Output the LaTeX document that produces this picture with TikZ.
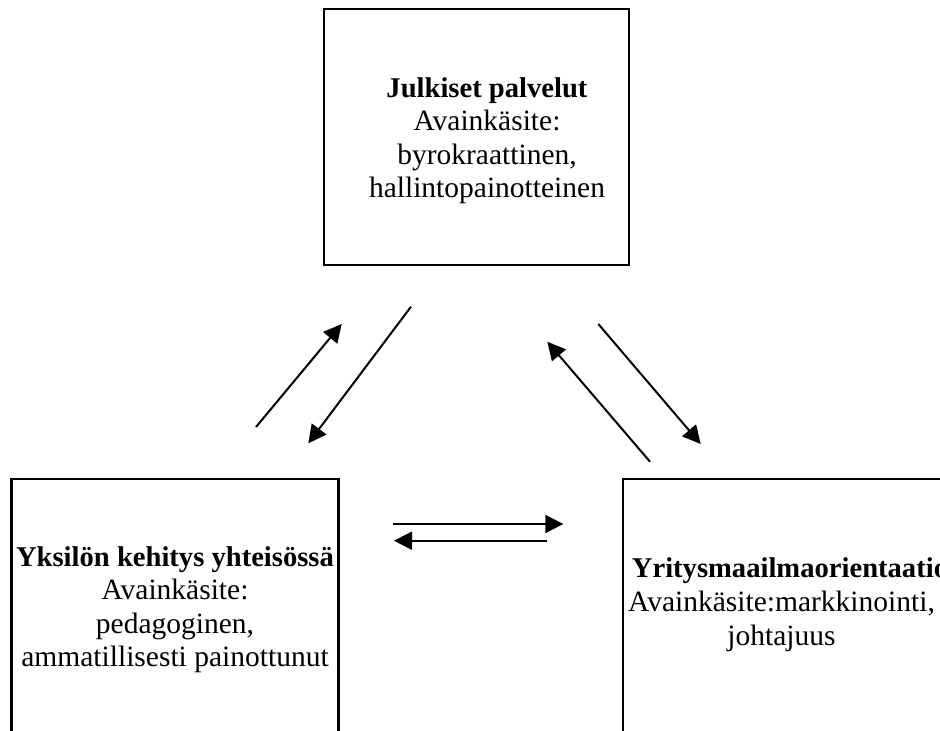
\documentclass[tikz,border=0pt]{standalone}
\usepackage{fontspec}
\setmainfont{Liberation Serif}
\usetikzlibrary{arrows.meta}
\newcommand{\titlefont}{\fontsize{28.6}{33.5}\selectfont\bfseries}
\begin{document}
\begin{tikzpicture}[x=1pt,y=-1pt,
  box/.style={draw=black, line width=2.1pt, inner sep=0pt},
  lbl/.style={font=\fontsize{29.5}{33.5}\selectfont, align=center, inner sep=0pt, anchor=base},
  arr/.style={line width=2pt, -{Triangle[length=18pt,width=18pt]}}]
\useasboundingbox (0,0) rectangle (940,731);
\clip (0,0) rectangle (940,731);
% boxes
\node[box, minimum width=305pt, minimum height=256pt] (top) at (476.5,137.2) {};
\node[box, minimum width=327pt, minimum height=290pt] (left) at (175,624) {};
\node[box, minimum width=340pt, minimum height=290pt] (right) at (793,624) {};
% texts (base anchor = baseline of the last line)
\node[lbl] (toptext) at (487,197.8) {{\titlefont Julkiset palvelut}\\Avainkäsite:\\byrokraattinen,\\hallintopainotteinen};
\node[lbl] (lefttext) at (175,666.7) {{\titlefont Yksilön kehitys yhteisössä}\\Avainkäsite:\\pedagoginen,\\ammatillisesti painottunut};
\node[lbl, anchor=base west] (righttitle) at (631.7,577.3) {\titlefont Yritysmaailmaorientaatio};
\node[lbl] (righttext) at (781.5,645) {Avainkäsite:markkinointi,\\johtajuus};
% arrow end points
\coordinate (a1s) at (256,427);   \coordinate (a1e) at (341.7,324);
\coordinate (a2s) at (411,306.7); \coordinate (a2e) at (308.3,443.3);
\coordinate (a3s) at (650,461.7); \coordinate (a3e) at (547.3,341.7);
\coordinate (a4s) at (598.3,324); \coordinate (a4e) at (700.7,444);
\coordinate (a5s) at (392.7,524); \coordinate (a5e) at (563.3,524);
\coordinate (a6s) at (547.3,540.7); \coordinate (a6e) at (394,540.7);
\draw[arr] (a1s) -- (a1e);
\draw[arr] (a2s) -- (a2e);
\draw[arr] (a3s) -- (a3e);
\draw[arr] (a4s) -- (a4e);
\draw[arr] (a5s) -- (a5e);
\draw[arr] (a6s) -- (a6e);
\end{tikzpicture}
\end{document}
